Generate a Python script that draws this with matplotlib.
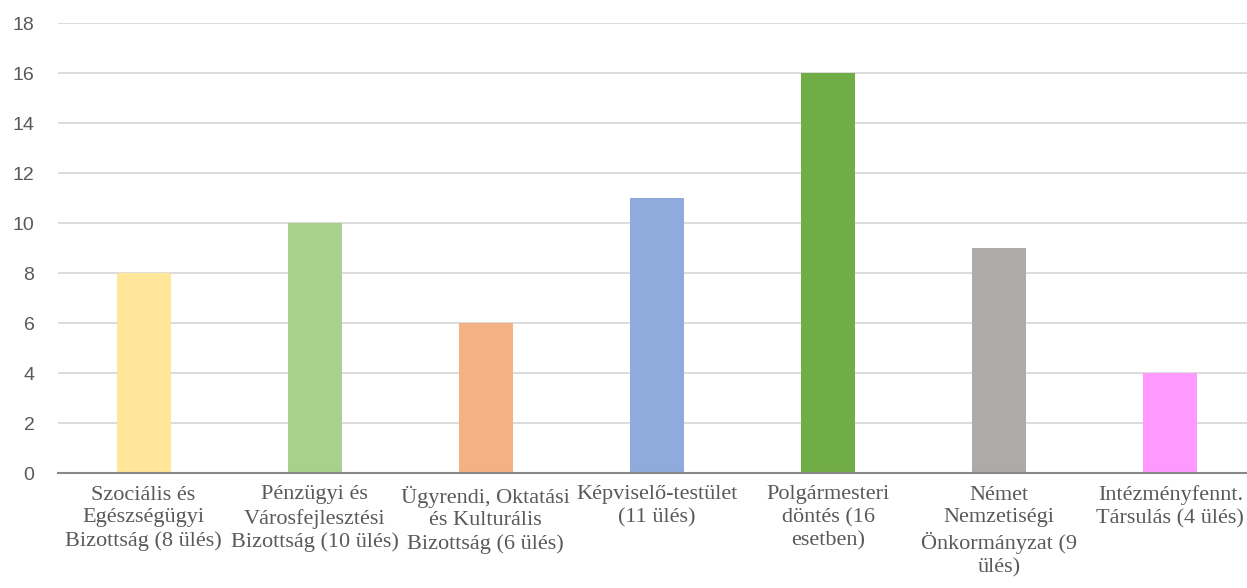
import matplotlib
matplotlib.use("Agg")
import matplotlib.pyplot as plt

# --- data ---
categories = [
    "Szociális és\nEgészségügyi\nBizottság (8 ülés)",
    "Pénzügyi és\nVárosfejlesztési\nBizottság (10 ülés)",
    "Ügyrendi, Oktatási\nés Kulturális\nBizottság (6 ülés)",
    "Képviselő-testület\n(11 ülés)",
    "Polgármesteri\ndöntés (16\nesetben)",
    "Német\nNemzetiségi\nÖnkormányzat (9\nülés)",
    "Intézményfennt.\nTársulás (4 ülés)",
]
values = [8, 10, 6, 11, 16, 9, 4]
bar_colors = ["#FFE699", "#A9D18E", "#F4B183", "#8FAADC", "#70AD47", "#AEAAAA", "#FF99FF"]
y_ticks = [0, 2, 4, 6, 8, 10, 12, 14, 16, 18]

fig = plt.figure(figsize=(12.47, 5.88), dpi=100)
# plot area runs a little past the right edge, as in the source image
ax = fig.add_axes([58 / 1247, 115 / 588, 1198 / 1247, 450 / 588])

x = range(len(categories))
ax.bar(x, values, width=0.316, color=bar_colors, zorder=3)

ax.set_ylim(0, 18)
ax.set_xlim(-0.5, len(categories) - 0.5)
ax.set_yticks(y_ticks)
ax.set_yticklabels([str(t) for t in y_ticks], fontsize=14, color="#595959",
                   family="Liberation Sans")
ax.set_xticks(list(x))
ax.set_xticklabels(categories, fontsize=16, color="#595959",
                   family="Liberation Serif", linespacing=1.28)

ax.yaxis.grid(True, color="#D9D9D9", linewidth=1.3, zorder=0)
ax.tick_params(axis="both", length=0)
ax.tick_params(axis="x", pad=9)
ax.tick_params(axis="y", pad=17)
for side in ["top", "right", "left"]:
    ax.spines[side].set_visible(False)
ax.spines["bottom"].set_color("#898989")
ax.spines["bottom"].set_linewidth(1.5)
ax.spines["bottom"].set_zorder(4)

fig.savefig("out.png", dpi=100, facecolor="white")
